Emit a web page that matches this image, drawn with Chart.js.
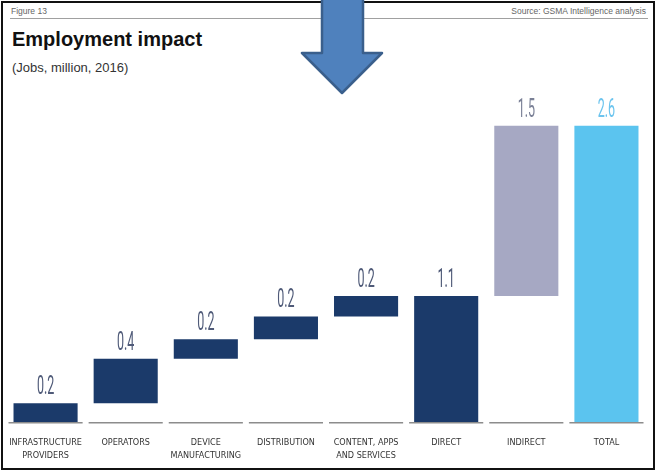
<!DOCTYPE html>
<html>
<head>
<meta charset="utf-8">
<script src="https://cdn.jsdelivr.net/npm/chart.js@4/dist/chart.umd.min.js"></script>
<style>
  html, body { margin: 0; padding: 0; background: #fff; }
  #wrap { position: relative; width: 656px; height: 470px; overflow: hidden; font-family: "Liberation Sans", Arial, sans-serif; }
  #frame { position: absolute; left: 1px; top: 1px; width: 650px; height: 465px; border: 2px solid #111; }
  #fig { position: absolute; left: 11px; top: 6px; font-size: 8.5px; color: #666; }
  #src { position: absolute; right: 10px; top: 6px; font-size: 8.5px; color: #666; }
  #rule { position: absolute; left: 10px; top: 18px; width: 638px; height: 1px; background: #a0a0a0; }
  #title { position: absolute; left: 12px; top: 28px; font-size: 20px; font-weight: bold; color: #111; }
  #sub { position: absolute; left: 12px; top: 60px; font-size: 13px; color: #333; }
  #cv { position: absolute; left: 0; top: 0; }
  #arrow { position: absolute; left: 0; top: 0; }
</style>
</head>
<body>
<div id="wrap">
  <div id="frame"></div>
  <div id="fig">Figure 13</div>
  <div id="src">Source: GSMA Intelligence analysis</div>
  <div id="rule"></div>
  <div id="title">Employment impact</div>
  <div id="sub">(Jobs, million, 2016)</div>
  <canvas id="cv" width="656" height="470"></canvas>
  <svg id="arrow" width="656" height="110">
    <polygon points="322,-5 363,-5 363,53 382,53 342,93 302,53 322,53" fill="#4f81bd" stroke="#3a5f8c" stroke-width="2.5" stroke-linejoin="round"/>
  </svg>
</div>
<script>
var categories = [
  ['INFRASTRUCTURE', 'PROVIDERS'],
  'OPERATORS',
  ['DEVICE', 'MANUFACTURING'],
  'DISTRIBUTION',
  ['CONTENT, APPS', 'AND SERVICES'],
  'DIRECT',
  'INDIRECT',
  'TOTAL'
];
// jobs, million
var values = [0.17, 0.39, 0.17, 0.20, 0.18, 1.11, 1.49, 2.60];
// 'step' floats on the running sum, 'total' starts from zero
var kinds = ['step', 'step', 'step', 'step', 'step', 'total', 'step', 'total'];

var barColors = ['#1b3a6a', '#1b3a6a', '#1b3a6a', '#1b3a6a', '#1b3a6a', '#1b3a6a', '#a6a8c3', '#5bc4ef'];
var labelColors = ['#4f5a78', '#4f5a78', '#4f5a78', '#4f5a78', '#4f5a78', '#4f5a78', '#7a8096', '#6cc4ee'];

var ranges = [];
var running = 0;
for (var i = 0; i < values.length; i++) {
  if (kinds[i] == 'total') {
    ranges.push([0, values[i]]);
    running = values[i];
  } else {
    ranges.push([running, running + values[i]]);
    running += values[i];
  }
}

var waterfallExtras = {
  id: 'waterfallExtras',
  afterDatasetsDraw: function(chart) {
    var ctx = chart.ctx;
    var x = chart.scales.x;
    var y = chart.scales.y;
    var meta = chart.getDatasetMeta(0);
    var slot = x.width / categories.length;
    var base = y.getPixelForValue(0);

    // baseline pieces under each category
    ctx.save();
    ctx.strokeStyle = '#8c8c8c';
    ctx.lineWidth = 1.5;
    for (var i = 0; i < categories.length; i++) {
      var cx = x.getPixelForValue(i);
      ctx.beginPath();
      ctx.moveTo(cx - slot / 2 + 3, base);
      ctx.lineTo(cx + slot / 2 - 3, base);
      ctx.stroke();
    }
    ctx.restore();

    // value labels, condensed
    for (var i = 0; i < meta.data.length; i++) {
      var bar = meta.data[i];
      var top = Math.min(bar.y, bar.base);
      ctx.save();
      ctx.translate(bar.x, top - 9);
      ctx.scale(0.5, 1);
      ctx.font = '25px Roboto, "Liberation Sans", sans-serif';
      ctx.fillStyle = labelColors[i];
      ctx.textAlign = 'center';
      ctx.textBaseline = 'alphabetic';
      ctx.fillText(values[i].toFixed(1), 0, 0);
      ctx.restore();
    }
  }
};

var chart = new Chart(document.getElementById('cv').getContext('2d'), {
  type: 'bar',
  data: {
    labels: categories,
    datasets: [{
      data: ranges,
      backgroundColor: barColors,
      borderWidth: 0,
      borderSkipped: false,
      barPercentage: 0.8,
      categoryPercentage: 1.0
    }]
  },
  options: {
    responsive: false,
    animation: false,
    layout: { padding: { left: 5.5, right: 9.5, top: 80, bottom: 4 } },
    plugins: { legend: { display: false }, tooltip: { enabled: false } },
    scales: {
      x: {
        grid: { display: false, drawTicks: false },
        border: { display: false },
        ticks: {
          maxRotation: 0,
          autoSkip: false,
          padding: 13,
          color: '#333',
          font: { family: '"Liberation Sans Narrow", "DejaVu Sans Condensed", "Liberation Sans", sans-serif', size: 9, lineHeight: 1.45 }
        },
        afterFit: function(scale) {
          scale.height = 43.3;
          scale.paddingLeft = 0;
          scale.paddingRight = 0;
        }
      },
      y: {
        display: false,
        min: 0,
        max: 3.0
      }
    }
  },
  plugins: [waterfallExtras]
});
</script>
</body>
</html>
